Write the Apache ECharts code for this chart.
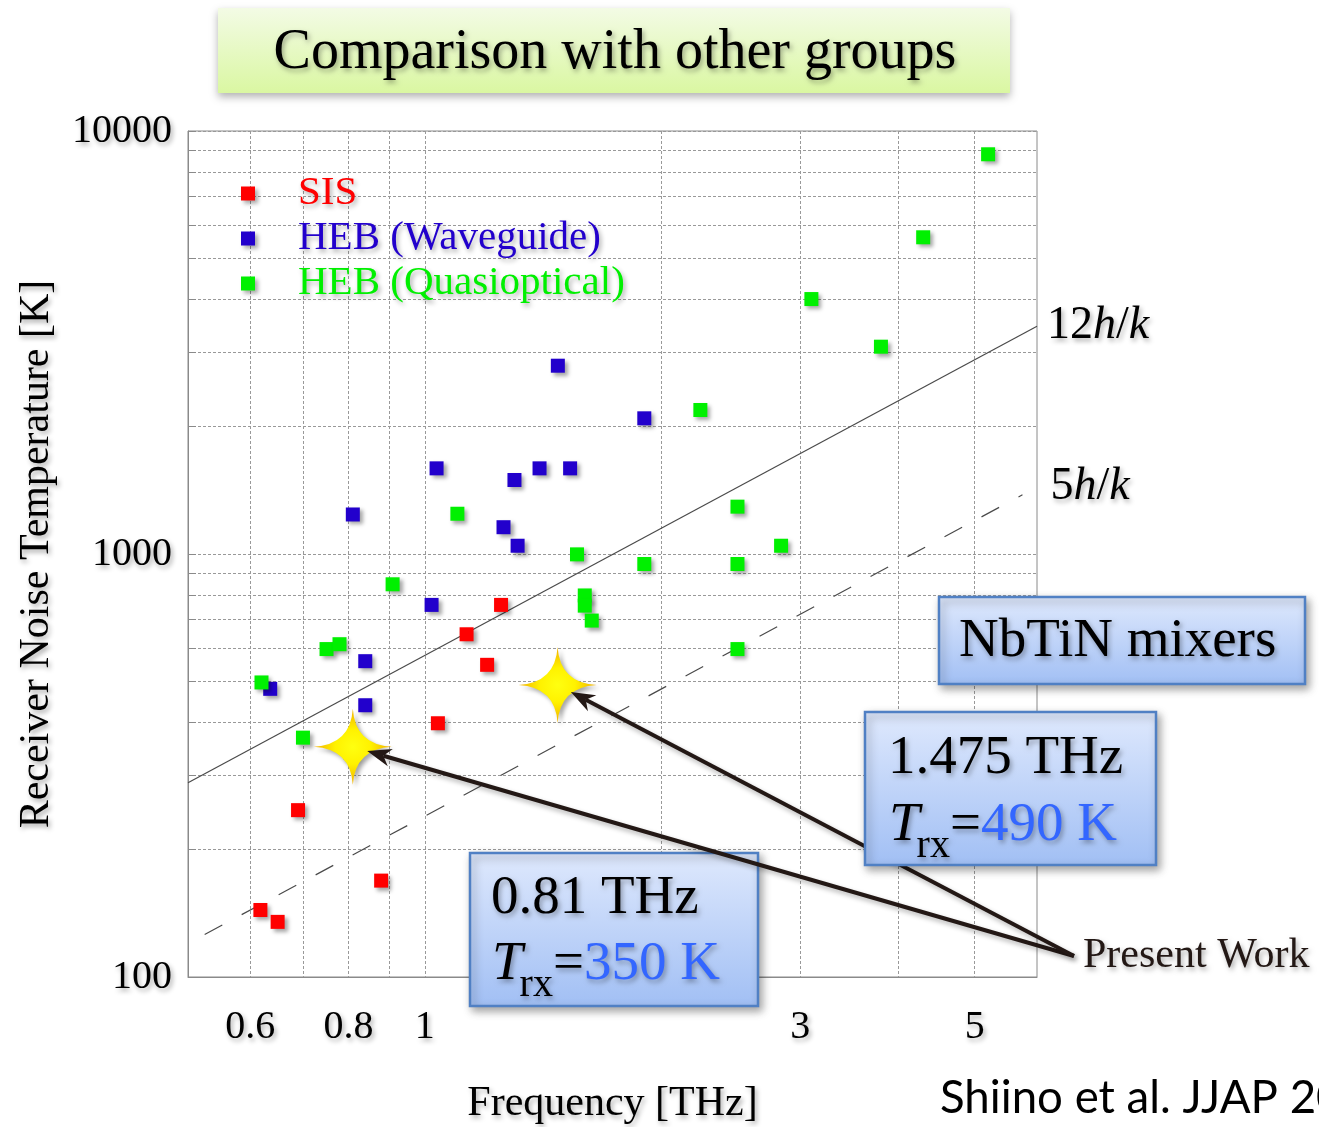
<!DOCTYPE html>
<html>
<head>
<meta charset="utf-8">
<script src="https://cdn.jsdelivr.net/npm/echarts@6/dist/echarts.min.js"></script>
<style>
  html, body { margin: 0; padding: 0; background: #ffffff; }
  #chart { width: 1319px; height: 1127px; }
</style>
</head>
<body>
<div id="chart"></div>
<script>
// Receiver noise temperature [K] versus LO frequency [THz]
const sisData = [
  [0.618, 144], [0.650, 135], [0.690, 248], [0.880, 169],
  [1.039, 398], [1.130, 646], [1.200, 547], [1.250, 758]
];
const hebWaveguideData = [
  [0.636, 480], [0.804, 340], [0.810, 1240], [0.840, 558], [0.840, 439],
  [1.020, 758], [1.035, 1594], [1.259, 1157], [1.300, 1496], [1.312, 1046],
  [1.399, 1594], [1.476, 2787], [1.530, 1594], [1.901, 2093]
];
const hebQuasiData = [
  [0.620, 497], [0.700, 368], [0.750, 596], [0.779, 612], [0.910, 848],
  [1.100, 1245], [1.561, 998], [1.597, 798], [1.597, 755], [1.630, 696],
  [1.901, 947], [2.240, 2190], [2.497, 1294], [2.497, 947], [2.497, 596],
  [2.837, 1046], [3.10, 4006], [3.80, 3091], [4.30, 5607], [5.20, 8810]
];
// NbTiN mixers of this work: [frequency THz, Trx K]
const presentWork = [[0.81, 350], [1.475, 490]];

// Quantum-limit reference lines (endpoints)
const line12hk = [[0.5, 288], [6, 3456]];
const line5hk = [[0.525, 126], [5.75, 1380]];

// Axis ticks, grid values and labels
const xTickLabels = [0.6, 0.8, 1, 3, 5];
const xGridValues = [0.6, 0.7, 0.8, 0.9, 1, 2, 3, 4, 5];
const yTickLabels = [100, 1000, 10000];
const yGridValues = [100, 200, 300, 400, 500, 600, 700, 800, 900, 1000,
                     2000, 3000, 4000, 5000, 6000, 7000, 8000, 9000, 10000];

const seriesNames = ['SIS', 'HEB (Waveguide)', 'HEB (Quasioptical)'];
const seriesColors = ['#ff0000', '#2200cc', '#00f000'];

const SERIF = '"Liberation Serif", "Times New Roman", serif';
const textShadow = {
  textShadowColor: 'rgba(0,0,0,0.33)',
  textShadowBlur: 5,
  textShadowOffsetX: 2,
  textShadowOffsetY: 3
};
const markShadow = {
  shadowBlur: 4,
  shadowColor: 'rgba(0,0,0,0.35)',
  shadowOffsetX: 3,
  shadowOffsetY: 3
};
const gridLineStyle = { color: '#999999', width: 1, type: [3, 2] };
const frameColor = '#8a8a8a';

// four-point star with concave sides
const STAR_PATH = 'path://M0,-50 Q3,-3 50,0 Q3,3 0,50 Q-3,3 -50,0 Q-3,-3 0,-50 Z';

const chart = echarts.init(document.getElementById('chart'), null, { renderer: 'canvas' });

const scatterSeries = [sisData, hebWaveguideData, hebQuasiData].map((d, i) => ({
  name: seriesNames[i],
  type: 'scatter',
  data: d,
  symbol: 'rect',
  symbolSize: 14,
  z: 4,
  itemStyle: Object.assign({ color: seriesColors[i], opacity: 1 }, markShadow),
  emphasis: { disabled: true }
}));

const richLabel = (size) => ({
  n: Object.assign({ fontFamily: SERIF, fontSize: size, color: '#000' }, textShadow),
  i: Object.assign({ fontFamily: SERIF, fontSize: size, fontStyle: 'italic', color: '#000' }, textShadow)
});

const option = {
  animation: false,
  backgroundColor: '#ffffff',
  grid: {
    left: 188, right: 282, top: 131, bottom: 150,
    containLabel: false,
    outerBoundsMode: 'none',
    show: true, borderColor: frameColor, borderWidth: 1
  },
  legend: {
    orient: 'vertical',
    left: 236,
    top: 168,
    icon: 'rect',
    itemWidth: 14,
    itemHeight: 14,
    itemGap: 4,
    selectedMode: false,
    itemStyle: Object.assign({ opacity: 1 }, markShadow),
    textStyle: Object.assign({
      fontFamily: SERIF, fontSize: 41, lineHeight: 41,
      padding: [0, 0, 0, 38]
    }, textShadow),
    data: seriesNames.map((n, i) => ({ name: n, textStyle: { color: seriesColors[i] } }))
  },
  xAxis: {
    type: 'log',
    logBase: 10,
    min: 0.5,
    max: 6,
    name: 'Frequency [THz]',
    nameLocation: 'middle',
    nameGap: 106,
    nameTextStyle: Object.assign({
      fontFamily: SERIF, fontSize: 42, color: '#000', verticalAlign: 'top'
    }, textShadow),
    axisLine: { show: true, lineStyle: { color: frameColor, width: 1 } },
    axisTick: { show: false, customValues: xGridValues },
    axisLabel: Object.assign({
      customValues: xTickLabels,
      margin: 30,
      fontFamily: SERIF, fontSize: 40, color: '#000',
      formatter: (v) => String(v)
    }, textShadow),
    splitLine: { show: true, lineStyle: gridLineStyle },
    minorTick: { show: false },
    minorSplitLine: { show: false }
  },
  yAxis: {
    type: 'log',
    logBase: 10,
    min: 100,
    max: 10000,
    name: 'Receiver Noise Temperature [K]',
    nameLocation: 'middle',
    nameRotate: 90,
    nameGap: 130,
    nameTextStyle: Object.assign({
      fontFamily: SERIF, fontSize: 42, color: '#000'
    }, textShadow),
    axisLine: { show: true, lineStyle: { color: frameColor, width: 1 } },
    axisTick: {
      show: true, inside: true, length: 8,
      customValues: yGridValues,
      lineStyle: { color: frameColor }
    },
    axisLabel: Object.assign({
      customValues: yTickLabels,
      margin: 16,
      fontFamily: SERIF, fontSize: 40, color: '#000',
      formatter: (v) => String(v)
    }, textShadow),
    splitLine: { show: true, lineStyle: gridLineStyle },
    minorTick: { show: false },
    minorSplitLine: { show: false }
  },
  series: [
    {
      name: '12h/k',
      type: 'line',
      data: line12hk,
      symbol: 'none',
      silent: true,
      z: 3,
      lineStyle: { color: '#4a4a4a', width: 1.2 },
      endLabel: {
        show: true,
        distance: 10,
        formatter: '{n|12}{i|h}{n|/}{i|k}',
        rich: richLabel(46)
      }
    },
    {
      name: '5h/k',
      type: 'line',
      data: line5hk,
      symbol: 'none',
      silent: true,
      z: 3,
      lineStyle: { color: '#4a4a4a', width: 1.2, type: [20, 22] },
      endLabel: {
        show: true,
        distance: 28,
        offset: [0, -8],
        formatter: '{n|5}{i|h}{n|/}{i|k}',
        rich: richLabel(46)
      }
    },
    ...scatterSeries,
    {
      name: 'NbTiN mixers',
      type: 'scatter',
      data: presentWork,
      symbol: STAR_PATH,
      symbolSize: [78, 76],
      z: 6,
      silent: true,
      itemStyle: Object.assign({
        opacity: 1,
        color: {
          type: 'radial', x: 0.5, y: 0.5, r: 0.5,
          colorStops: [
            { offset: 0, color: '#ffff10' },
            { offset: 0.45, color: '#fff200' },
            { offset: 1, color: '#f2b000' }
          ]
        }
      }, markShadow)
    }
  ]
};

chart.setOption(option);

// ---- annotations: title, boxes, arrows ----
const measureCtx = document.createElement('canvas').getContext('2d');
function textWidth(str, font) {
  measureCtx.font = font;
  return measureCtx.measureText(str).width;
}

function textEl(x, y, text, font, fill, z) {
  return {
    type: 'text', x: x, y: y, z: z || 20,
    style: Object.assign({
      text: text, font: font, fill: fill || '#000',
      align: 'left', verticalAlign: 'middle',
      textAlign: 'left', textVerticalAlign: 'middle'
    }, textShadow)
  };
}

function blueBox(x, y, w, h, z) {
  return {
    type: 'rect', z: z,
    shape: { x: x, y: y, width: w, height: h },
    style: {
      fill: {
        type: 'linear', x: 0, y: 0, x2: 0, y2: 1,
        colorStops: [{ offset: 0, color: '#dfe9fd' }, { offset: 1, color: '#a1bff4' }]
      },
      stroke: '#5080c4', lineWidth: 2.5,
      shadowBlur: 8, shadowColor: 'rgba(0,0,0,0.35)', shadowOffsetX: 3, shadowOffsetY: 4
    }
  };
}

const FONT_BIG = '55px "Liberation Serif"';
const FONT_BIG_IT = 'italic 55px "Liberation Serif"';
const FONT_SUB = '40px "Liberation Serif"';

function trxLine(x, y, value, z) {
  const wT = textWidth('T', FONT_BIG_IT);
  const xs = x + wT - 3;
  const xe = xs + textWidth('rx', FONT_SUB);
  const xv = xe + textWidth('=', FONT_BIG);
  return [
    textEl(x, y, 'T', FONT_BIG_IT, '#000', z),
    textEl(xs, y + 20, 'rx', FONT_SUB, '#000', z),
    textEl(xe, y, '=', FONT_BIG, '#000', z),
    textEl(xv, y, value + ' K', FONT_BIG, '#3366ff', z)
  ];
}

const tail = [1074, 956];
const arrowEls = [];
presentWork.forEach((p) => {
  const c = chart.convertToPixel({ xAxisIndex: 0, yAxisIndex: 0 }, p);
  const dx = c[0] - tail[0], dy = c[1] - tail[1];
  const len = Math.hypot(dx, dy);
  const ux = dx / len, uy = dy / len;
  const nx = -uy, ny = ux;
  const tip = [c[0] - ux * 15, c[1] - uy * 15];
  const L = 24, W = 9;
  const base = [tip[0] - ux * L * 0.7, tip[1] - uy * L * 0.7];
  arrowEls.push({
    type: 'line', z: 12,
    shape: { x1: tail[0], y1: tail[1], x2: base[0], y2: base[1] },
    style: {
      stroke: '#231815', lineWidth: 4,
      shadowBlur: 5, shadowColor: 'rgba(0,0,0,0.3)', shadowOffsetX: 2, shadowOffsetY: 3
    }
  });
  arrowEls.push({
    type: 'polygon', z: 12,
    shape: {
      points: [
        tip,
        [tip[0] - ux * L + nx * W, tip[1] - uy * L + ny * W],
        base,
        [tip[0] - ux * L - nx * W, tip[1] - uy * L - ny * W]
      ]
    },
    style: { fill: '#231815' }
  });
});

// citation text, sized to its measured width
const citeFont = (s) => s + 'px Lato, "Open Sans", sans-serif';
const citeSize = 50 * 350 / textWidth('Shiino et al. JJAP ', citeFont(50));

const graphics = [
  // title banner
  {
    type: 'rect', z: 10,
    shape: { x: 218, y: 8, width: 792, height: 85 },
    style: {
      fill: {
        type: 'linear', x: 0, y: 0, x2: 0, y2: 1,
        colorStops: [{ offset: 0, color: '#f3fbe5' }, { offset: 1, color: '#daf7a2' }]
      },
      shadowBlur: 8, shadowColor: 'rgba(0,0,0,0.3)', shadowOffsetX: 0, shadowOffsetY: 4
    }
  },
  {
    type: 'text', x: 615, y: 53, z: 11,
    style: Object.assign({
      text: 'Comparison with other groups', font: '56px "Liberation Serif"', fill: '#000',
      align: 'center', verticalAlign: 'middle', textAlign: 'center', textVerticalAlign: 'middle'
    }, textShadow)
  },
  // NbTiN mixers box
  blueBox(939, 597, 366, 87, 14),
  textEl(959, 642, 'NbTiN mixers', FONT_BIG, '#000', 15),
  // 0.81 THz box (below the arrows)
  blueBox(470, 853, 288, 153, 11),
  textEl(491, 899, '0.81 THz', FONT_BIG, '#000', 11),
  ...trxLine(492, 965, '350', 11),
  ...arrowEls,
  // 1.475 THz box (above the arrows)
  blueBox(865, 712, 291, 153, 14),
  textEl(888, 759, '1.475 THz', FONT_BIG, '#000', 15),
  ...trxLine(889, 826, '490', 15),
  // arrow label
  textEl(1083, 956, 'Present Work', '42px "Liberation Serif"', '#231815', 15),
  // citation
  {
    type: 'text', x: 940, y: 1098, z: 15,
    style: {
      text: 'Shiino et al. JJAP 20', font: citeFont(citeSize.toFixed(1)), fill: '#000',
      align: 'left', verticalAlign: 'middle', textAlign: 'left', textVerticalAlign: 'middle'
    }
  }
];

chart.setOption({ graphic: { elements: graphics } });
</script>
</body>
</html>
